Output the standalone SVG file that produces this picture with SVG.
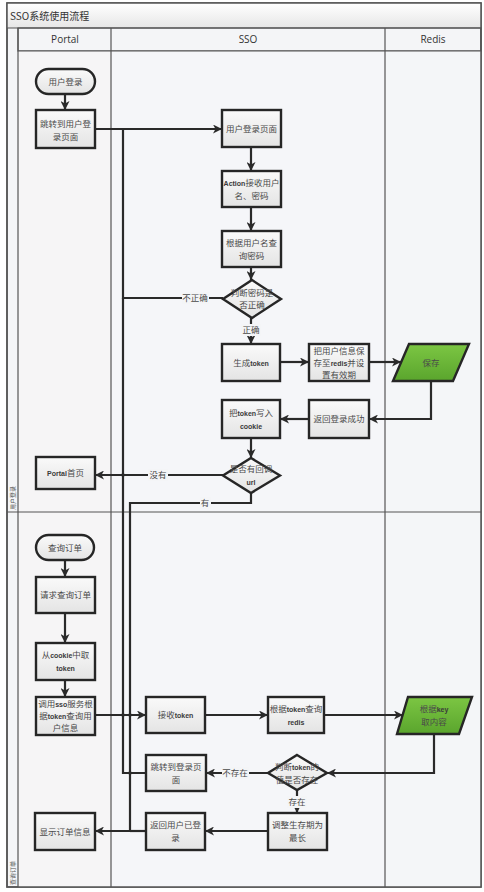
<svg xmlns="http://www.w3.org/2000/svg" width="484" height="892" viewBox="0 0 484 892">
<defs>
<linearGradient id="boxg" x1="0" y1="0" x2="0" y2="1"><stop offset="0" stop-color="#fafafa"/><stop offset="1" stop-color="#e4e4e4"/></linearGradient>
<linearGradient id="hdrg" x1="0" y1="0" x2="0" y2="1"><stop offset="0" stop-color="#ffffff"/><stop offset="1" stop-color="#e6e6e6"/></linearGradient>
<linearGradient id="grn" x1="0" y1="0" x2="0" y2="1"><stop offset="0" stop-color="#7cc643"/><stop offset="1" stop-color="#5aa52d"/></linearGradient>
<marker id="arr" markerUnits="userSpaceOnUse" markerWidth="10" markerHeight="9" refX="9" refY="4.5" orient="auto"><path d="M0,0 L9,4.5 L0,9 L2.5,4.5 z" fill="#2a2a2a"/></marker>
</defs>
<style>
.box{fill:url(#boxg);stroke:#262626;stroke-width:2.4}
.green{fill:url(#grn);stroke:#262626;stroke-width:2.4}
.t{font-family:"Noto Sans CJK SC","Liberation Sans",sans-serif;font-size:8.5px;fill:#4a4a4a;text-anchor:middle}
.b{font-family:"Liberation Sans",sans-serif;font-weight:bold;font-size:7px;fill:#3a3a3a}
.lbl{font-family:"Noto Sans CJK SC","Liberation Sans",sans-serif;font-size:8.5px;fill:#4a4a4a;text-anchor:middle}
.lbg{fill:#f4f5f7}
.c{fill:none;stroke:#2a2a2a;stroke-width:2.2}
.ca{fill:none;stroke:#2a2a2a;stroke-width:2.2;marker-end:url(#arr)}
.hdr{font-family:"Open Sans","Liberation Sans",sans-serif;font-size:10px;fill:#333;text-anchor:middle}
.lane{stroke:#555;stroke-width:1.2;fill:none}
.vl{font-family:"Noto Sans CJK SC",sans-serif;font-size:6px;fill:#555}
.dot{fill:#2a2a2a}
</style>
<rect width="484" height="892" fill="#ffffff"/>
<g id="frame">
<rect x="7" y="3" width="474" height="884" fill="#f4f5f7" stroke="#555" stroke-width="1.5"/>
<rect x="7" y="3" width="474" height="25" fill="url(#hdrg)"/>
<text x="10" y="20" font-family="Noto Sans CJK SC, sans-serif" font-size="10" fill="#333">SSO系统使用流程</text>
<rect x="18" y="28" width="463" height="23" fill="url(#hdrg)" class="lane"/>
<rect x="18" y="51" width="93" height="836" fill="#f6f5f6"/>
<rect x="111" y="51" width="274" height="836" fill="#f5f6f9"/>
<rect x="385" y="51" width="96" height="836" fill="#f4f6f8"/>
<line class="lane" x1="7" y1="28" x2="481" y2="28"/>
<line class="lane" x1="18" y1="28" x2="18" y2="887"/>
<line class="lane" x1="111" y1="28" x2="111" y2="887"/>
<line class="lane" x1="385" y1="28" x2="385" y2="887"/>
<line class="lane" x1="18" y1="51" x2="481" y2="51"/>
<line class="lane" x1="7" y1="512" x2="481" y2="512"/>
<rect x="7" y="3" width="474" height="884" fill="none" stroke="#555" stroke-width="1.5"/>
<text class="hdr" x="65" y="43">Portal</text>
<text class="hdr" x="248" y="43">SSO</text>
<text class="hdr" x="433" y="43" font-size="8">Redis</text>
<text class="vl" transform="translate(15,510) rotate(-90)">用户登录</text>
<text class="vl" transform="translate(15,885) rotate(-90)">查询订单</text>
</g>
<g id="connectors">
<path class="ca" d="M65,94 L65,110"/>
<path class="ca" d="M95,129 L222,129"/>
<path class="ca" d="M251,147 L251,171"/>
<path class="ca" d="M251,207 L251,231"/>
<path class="ca" d="M251,267 L251,280"/>
<path class="c" d="M223,298 L123,298 L123,129"/>
<path class="ca" d="M251,318 L251,344"/>
<path class="ca" d="M280,362 L309,362"/>
<path class="ca" d="M369,362 L401,362"/>
<path class="ca" d="M431,381 L431,419 L369,419"/>
<path class="ca" d="M309,419 L280,419"/>
<path class="ca" d="M251,438 L251,458"/>
<path class="ca" d="M223,475 L95,475"/>
<path class="ca" d="M251,493 L251,503 L130,503 L130,831 L95,831"/>
<path class="ca" d="M65,560 L65,577"/>
<path class="ca" d="M65,613 L65,643"/>
<path class="ca" d="M65,680 L65,697"/>
<path class="ca" d="M95,715 L146,715"/>
<path class="ca" d="M205,715 L268,715"/>
<path class="ca" d="M324,715 L403,715"/>
<path class="ca" d="M434,734 L434,773 L327,773"/>
<path class="ca" d="M268,773 L206,773"/>
<path class="c" d="M146,773 L123,773 L123,298"/>
<path class="ca" d="M297,790 L297,813"/>
<path class="ca" d="M268,831 L205,831"/>
<path class="c" d="M146,831 L130,831"/>
<circle class="dot" cx="123" cy="475" r="1.8"/>
<circle class="dot" cx="123" cy="715" r="1.8"/>
<circle class="dot" cx="130" cy="715" r="1.8"/>
<circle class="dot" cx="130" cy="773" r="1.8"/>
<rect class="lbg" x="182" y="292" width="27" height="12"/>
<text class="lbl" x="195" y="301">不正确</text>
<rect class="lbg" x="241" y="324" width="20" height="12"/>
<text class="lbl" x="251" y="333">正确</text>
<rect class="lbg" x="148" y="469" width="20" height="12"/>
<text class="lbl" x="158" y="478">没有</text>
<rect class="lbg" x="200" y="497" width="11" height="12"/>
<text class="lbl" x="205" y="506">有</text>
<rect class="lbg" x="222" y="767" width="27" height="12"/>
<text class="lbl" x="235" y="776">不存在</text>
<rect class="lbg" x="287" y="796" width="20" height="12"/>
<text class="lbl" x="297" y="805">存在</text>
</g>
<g id="n_login">
<rect class="box" x="36" y="69" width="59" height="25" rx="12.5"/>
<text class="t" x="65.5" y="84.5">用户登录</text>
</g>
<g id="n_jump">
<rect class="box" x="36" y="110" width="59" height="38"/>
<text class="t" x="65.5" y="127">跳转到用户登</text>
<text class="t" x="65.5" y="140">录页面</text>
</g>
<g id="n_loginpage">
<rect class="box" x="222" y="110" width="59" height="37"/>
<text class="t" x="251.5" y="131.5">用户登录页面</text>
</g>
<g id="n_action">
<rect class="box" x="222" y="171" width="59" height="36"/>
<text class="t" x="251.5" y="186"><tspan class="b">Action</tspan>接收用户</text>
<text class="t" x="251.5" y="199">名、密码</text>
</g>
<g id="n_query">
<rect class="box" x="222" y="231" width="59" height="36"/>
<text class="t" x="251.5" y="246">根据用户名查</text>
<text class="t" x="251.5" y="259">询密码</text>
</g>
<g id="n_check">
<polygon class="box" points="252,280 281,299 252,318 223,299"/>
<text class="t" x="252" y="296">判断密码是</text>
<text class="t" x="252" y="308">否正确</text>
</g>
<g id="n_token">
<rect class="box" x="222" y="344" width="58" height="37"/>
<text class="t" x="251" y="365.5">生成<tspan class="b">token</tspan></text>
</g>
<g id="n_saveinfo">
<rect class="box" x="309" y="344" width="60" height="37"/>
<text class="t" x="339" y="354">把用户信息保</text>
<text class="t" x="339" y="366">存至<tspan class="b">redis</tspan>并设</text>
<text class="t" x="339" y="378">置有效期</text>
</g>
<g id="n_save">
<polygon class="green" points="409,344 469,344 453,381 393,381"/>
<text class="t" x="431" y="365.5" fill="#3a3a3a">保存</text>
</g>
<g id="n_success">
<rect class="box" x="309" y="400" width="60" height="38"/>
<text class="t" x="339" y="422">返回登录成功</text>
</g>
<g id="n_cookie">
<rect class="box" x="222" y="400" width="58" height="38"/>
<text class="t" x="251" y="416">把<tspan class="b">token</tspan>写入</text>
<text class="t b" x="251" y="429" text-anchor="middle">cookie</text>
</g>
<g id="n_callback">
<polygon class="box" points="251,458 280,475.5 251,493 223,475.5"/>
<text class="t" x="251" y="472">是否有回调</text>
<text class="t b" x="251" y="485" text-anchor="middle">url</text>
</g>
<g id="n_home">
<rect class="box" x="36" y="457" width="59" height="32"/>
<text class="t" x="65.5" y="476"><tspan class="b">Portal</tspan>首页</text>
</g>
<g id="n_order">
<rect class="box" x="36" y="535" width="58" height="25" rx="12.5"/>
<text class="t" x="65" y="550.5">查询订单</text>
</g>
<g id="n_req">
<rect class="box" x="36" y="577" width="59" height="36"/>
<text class="t" x="65.5" y="598">请求查询订单</text>
</g>
<g id="n_getcookie">
<rect class="box" x="36" y="643" width="59" height="37"/>
<text class="t" x="65.5" y="658"><tspan>从</tspan><tspan class="b">cookie</tspan>中取</text>
<text class="t b" x="65.5" y="671" text-anchor="middle">token</text>
</g>
<g id="n_callsso">
<rect class="box" x="36" y="697" width="59" height="38"/>
<text class="t" x="65.5" y="707">调用<tspan class="b">sso</tspan>服务根</text>
<text class="t" x="65.5" y="719">据<tspan class="b">token</tspan>查询用</text>
<text class="t" x="65.5" y="731">户信息</text>
</g>
<g id="n_recv">
<rect class="box" x="146" y="697" width="59" height="36"/>
<text class="t" x="175.5" y="718">接收<tspan class="b">token</tspan></text>
</g>
<g id="n_queryredis">
<rect class="box" x="268" y="697" width="56" height="36"/>
<text class="t" x="296" y="712">根据<tspan class="b">token</tspan>查询</text>
<text class="t b" x="296" y="725" text-anchor="middle">redis</text>
</g>
<g id="n_getkey">
<polygon class="green" points="408,697 472,697 459,734 397,734"/>
<text class="t" x="434" y="712" fill="#3a3a3a">根据<tspan class="b">key</tspan></text>
<text class="t" x="434" y="725" fill="#3a3a3a">取内容</text>
</g>
<g id="n_exists">
<polygon class="box" points="297,755 327,773 297,790 268,773"/>
<text class="t" x="297" y="770">判断<tspan class="b">token</tspan>的</text>
<text class="t" x="297" y="783">值是否存在</text>
</g>
<g id="n_tologin">
<rect class="box" x="146" y="755" width="60" height="36"/>
<text class="t" x="176" y="770">跳转到登录页</text>
<text class="t" x="176" y="783">面</text>
</g>
<g id="n_extend">
<rect class="box" x="268" y="813" width="59" height="37"/>
<text class="t" x="297.5" y="828">调整生存期为</text>
<text class="t" x="297.5" y="841">最长</text>
</g>
<g id="n_logged">
<rect class="box" x="146" y="813" width="59" height="37"/>
<text class="t" x="175.5" y="828">返回用户已登</text>
<text class="t" x="175.5" y="841">录</text>
</g>
<g id="n_show">
<rect class="box" x="35" y="813" width="60" height="37"/>
<text class="t" x="65" y="834.5">显示订单信息</text>
</g>
</svg>
